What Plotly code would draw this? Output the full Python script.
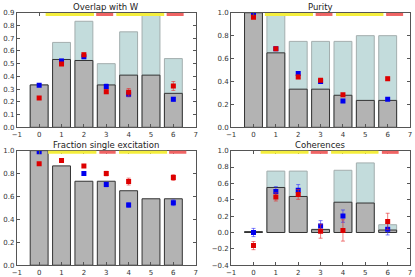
import plotly.graph_objects as go

x_pos = [0, 1, 2, 3, 4, 5, 6]

# Overlap with W
ov_gray = [0.333, 0.533, 0.525, 0.333, 0.41, 0.41, 0.267]
ov_light = [0.333, 0.667, 0.833, 0.50, 0.75, 0.88, 0.54]
ov_blue = [0.33, 0.52, 0.555, 0.32, 0.26, None, 0.22]
ov_blue_err = [0.01, 0.015, 0.015, 0.02, 0.02, None, 0.015]
ov_red = [0.23, 0.497, 0.57, 0.28, 0.275, None, 0.325]
ov_red_err = [0.01, 0.01, 0.015, 0.015, 0.03, None, 0.035]

# Purity
pu_gray = [1.0, 0.65, 0.333, 0.333, 0.28, 0.235, 0.235]
pu_light = [1.0, 0.99, 0.75, 0.75, 0.75, 0.80, 0.80]
pu_blue = [0.99, 0.685, 0.47, 0.40, 0.23, None, 0.245]
pu_blue_err = [0.005, 0.01, 0.015, 0.01, 0.01, None, 0.01]
pu_red = [0.96, 0.685, 0.44, 0.41, 0.285, None, 0.425]
pu_red_err = [0.005, 0.01, 0.015, 0.01, 0.01, None, 0.015]

# Fraction single excitation
fs_gray = [1.0, 0.867, 0.733, 0.733, 0.65, 0.58, 0.58]
fs_blue = [0.99, None, 0.80, 0.705, 0.525, None, 0.545]
fs_blue_err = [0.005, None, 0.015, 0.02, 0.02, None, 0.025]
fs_red = [0.885, 0.915, 0.865, 0.80, 0.73, None, 0.765]
fs_red_err = [0.005, 0.01, 0.01, 0.02, 0.03, None, 0.025]

# Coherences
co_gray = [0.01, 0.55, 0.44, 0.035, 0.37, 0.36, 0.03]
co_light = [0.01, 0.75, 0.75, 0.04, 0.76, 0.85, 0.095]
co_blue = [0.0, 0.50, 0.515, 0.08, 0.20, None, 0.04]
co_blue_err = [0.05, 0.06, 0.07, 0.065, 0.075, None, 0.07]
co_red = [-0.16, 0.435, 0.465, 0.015, 0.025, None, 0.135]
co_red_err = [0.05, 0.05, 0.06, 0.085, 0.13, None, 0.1]

titles = ["Overlap with W", "Purity", "Fraction single excitation", "Coherences"]

# strips (x start, x end) per panel: yellow, red, yellow, red
strips = [
    [(0.29, 2.45), (2.55, 3.31), (3.45, 5.59), (5.70, 6.46)],
    [(0.51, 2.66), (2.78, 3.53), (3.69, 5.81), (5.93, 6.69)],
    [(0.40, 2.56), (2.69, 3.42), (3.57, 5.72), (5.81, 6.58)],
    [(0.32, 2.46), (2.56, 3.32), (3.47, 5.59), (5.74, 6.49)],
]
strip_colors = ["#f4ee3c", "#f06464", "#f4ee3c", "#f06464"]

panels = [
    dict(gray=ov_gray, light=ov_light, blue=ov_blue, be=ov_blue_err, red=ov_red, re=ov_red_err,
         yr=[0, 0.9], dt=0.1),
    dict(gray=pu_gray, light=pu_light, blue=pu_blue, be=pu_blue_err, red=pu_red, re=pu_red_err,
         yr=[0, 1.0], dt=0.2),
    dict(gray=fs_gray, light=None, blue=fs_blue, be=fs_blue_err, red=fs_red, re=fs_red_err,
         yr=[0, 1.0], dt=0.2),
    dict(gray=co_gray, light=co_light, blue=co_blue, be=co_blue_err, red=co_red, re=co_red_err,
         yr=[-0.4, 1.0], dt=0.2),
]

W, H = 415, 277
xdoms = [[12 / W, 194 / W], [230 / W, 412 / W]]
ydoms = [[1 - 127 / H, 1 - 9 / H], [1 - 269 / H, 1 - 151 / H]]

fig = go.Figure()
layout = dict(width=W, height=H, margin=dict(l=0, r=0, t=0, b=0),
              paper_bgcolor="white", plot_bgcolor="white", showlegend=False,
              barmode="overlay", bargap=0.2,
              font=dict(family="DejaVu Sans", size=7, color="#333"))
shapes = []
annotations = []

for i, p in enumerate(panels):
    n = i + 1
    xa = "x" if n == 1 else f"x{n}"
    ya = "y" if n == 1 else f"y{n}"
    col = i % 2
    row = i // 2
    if p["light"] is not None:
        fig.add_trace(go.Bar(x=x_pos, y=p["light"], width=0.8, xaxis=xa, yaxis=ya,
                             marker=dict(color="#c3dcdc", line=dict(color="#a3aeae", width=1))))
    fig.add_trace(go.Bar(x=x_pos, y=p["gray"], width=0.8, xaxis=xa, yaxis=ya,
                         marker=dict(color="#b3b3b3", line=dict(color="#333333", width=1))))
    fig.add_trace(go.Scatter(x=x_pos, y=p["blue"], mode="markers", xaxis=xa, yaxis=ya,
                             marker=dict(symbol="square", size=5, color="#0000ee"),
                             error_y=dict(type="data", array=p["be"], color="rgba(40,40,255,0.6)",
                                          thickness=1, width=2)))
    fig.add_trace(go.Scatter(x=x_pos, y=p["red"], mode="markers", xaxis=xa, yaxis=ya,
                             marker=dict(symbol="square", size=5, color="#dd0000"),
                             error_y=dict(type="data", array=p["re"], color="rgba(230,40,40,0.6)",
                                          thickness=1, width=2)))
    axname_x = "xaxis" if n == 1 else f"xaxis{n}"
    axname_y = "yaxis" if n == 1 else f"yaxis{n}"
    layout[axname_x] = dict(domain=xdoms[col], anchor=ya, range=[-1, 7], dtick=1, tick0=-1,
                            showgrid=False, zeroline=False, showline=True, linecolor="#555",
                            linewidth=1, mirror="ticks", ticks="inside", ticklen=3,
                            tickcolor="#555", tickfont=dict(size=7, color="#333"))
    layout[axname_y] = dict(domain=ydoms[row], anchor=xa, range=p["yr"], dtick=p["dt"],
                            tick0=p["yr"][0], tickformat=".1f",
                            showgrid=False, zeroline=False, showline=True, linecolor="#555",
                            linewidth=1, mirror="ticks", ticks="inside", ticklen=3,
                            tickcolor="#555", tickfont=dict(size=7, color="#333"))
    for (x0, x1), c in zip(strips[i], strip_colors):
        shapes.append(dict(type="line", xref=xa, yref=f"{ya} domain", x0=x0, x1=x1,
                           y0=0.985, y1=0.985, line=dict(color=c, width=3), layer="above"))
    annotations.append(dict(text=titles[i], xref=f"{xa} domain", yref=f"{ya} domain",
                            x=0.5, y=1, xanchor="center", yanchor="bottom", yshift=-1,
                            showarrow=False, font=dict(size=8.5, color="#222")))

layout["shapes"] = shapes
layout["annotations"] = annotations
fig.update_layout(**layout)
fig.write_html("out.html", config={"displayModeBar": False},
               post_script="document.body.style.margin='0';document.body.style.overflow='hidden';")
